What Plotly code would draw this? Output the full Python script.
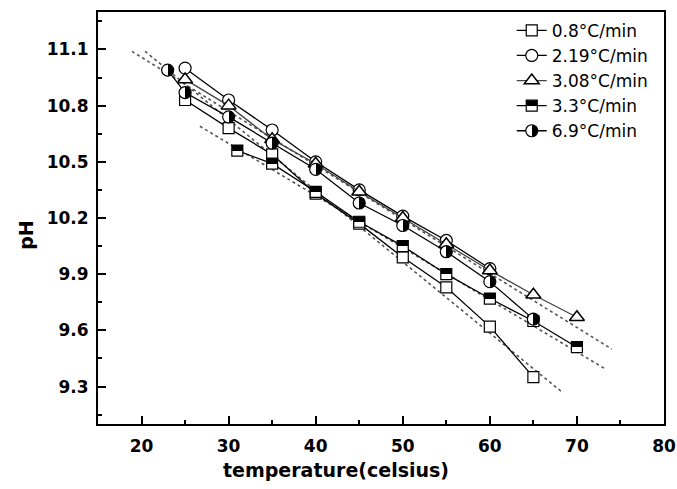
import plotly.graph_objects as go

# ---- data ----
x_08 = [25, 30, 35, 40, 45, 50, 55, 60, 65]
y_08 = [10.83, 10.68, 10.54, 10.33, 10.17, 9.99, 9.83, 9.62, 9.35]

x_219 = [25, 30, 35, 40, 45, 50, 55, 60]
y_219 = [11.00, 10.83, 10.67, 10.50, 10.35, 10.21, 10.08, 9.93]

x_308 = [25, 30, 35, 40, 45, 50, 55, 60, 65, 70]
y_308 = [10.94, 10.80, 10.62, 10.49, 10.34, 10.20, 10.06, 9.92, 9.79, 9.67]

x_33 = [31, 35, 40, 45, 50, 55, 60, 65, 70]
y_33 = [10.56, 10.49, 10.34, 10.18, 10.05, 9.90, 9.77, 9.65, 9.51]

x_69 = [23, 25, 30, 35, 40, 45, 50, 55, 60, 65]
y_69 = [10.99, 10.87, 10.74, 10.60, 10.46, 10.28, 10.16, 10.02, 9.86, 9.66]

# dotted linear-fit lines (end points)
fitA_x = [18.9, 74.0]
fitA_y = [11.09, 9.50]
fit08_x = [20.4, 68.3]
fit08_y = [11.09, 9.27]
fit33_x = [26.7, 73.4]
fit33_y = [10.69, 9.39]

labels = ["0.8°C/min", "2.19°C/min", "3.08°C/min", "3.3°C/min", "6.9°C/min"]

FONT = "DejaVu Sans"

fig = go.Figure()

for fx, fy in [(fitA_x, fitA_y), (fit08_x, fit08_y), (fit33_x, fit33_y)]:
    fig.add_trace(go.Scatter(x=fx, y=fy, mode="lines", showlegend=False,
                             hoverinfo="skip",
                             line=dict(color="#555555", width=1.6, dash="dot")))

line_style = dict(color="black", width=1.3)

fig.add_trace(go.Scatter(
    x=x_08, y=y_08, mode="lines+markers", name=labels[0], line=line_style,
    marker=dict(symbol="square", size=11, color="white",
                line=dict(color="black", width=1.2))))
fig.add_trace(go.Scatter(
    x=x_219, y=y_219, mode="lines+markers", name=labels[1], line=line_style,
    marker=dict(symbol="circle", size=12, color="white",
                line=dict(color="black", width=1.2))))
fig.add_trace(go.Scatter(
    x=x_308, y=y_308, mode="lines+markers", name=labels[2],
    line=dict(color="#444444", width=1.3),
    marker=dict(symbol="triangle-up", size=13, color="white",
                line=dict(color="black", width=1.5))))
fig.add_trace(go.Scatter(
    x=x_33, y=y_33, mode="lines+markers", name=labels[3], line=line_style,
    marker=dict(symbol="square", size=11, color="black",
                gradient=dict(type="vertical", color="white"),
                line=dict(color="black", width=1.2))))
fig.add_trace(go.Scatter(
    x=x_69, y=y_69, mode="lines+markers", name=labels[4], line=line_style,
    marker=dict(symbol="circle", size=12, color="white",
                gradient=dict(type="horizontal", color="black"),
                line=dict(color="black", width=1.2))))

tickfont = dict(family=FONT, size=17, color="black", weight="bold")

fig.update_layout(
    width=677, height=489,
    margin=dict(l=98, r=13, t=12, b=65, autoexpand=False),
    paper_bgcolor="white", plot_bgcolor="white",
    showlegend=True,
    legend=dict(x=0.731, y=0.998, xanchor="left", yanchor="top",
                bgcolor="rgba(0,0,0,0)", borderwidth=0,
                font=dict(family=FONT, size=17, color="black")),
    xaxis=dict(range=[15, 80], tick0=20, dtick=10, ticks="inside",
               ticklen=8, tickwidth=1.5, tickcolor="black",
               minor=dict(dtick=5, tick0=15, ticks="inside", ticklen=4,
                          tickwidth=1.5, tickcolor="black"),
               showline=True, linewidth=2, linecolor="black", mirror=True,
               showgrid=False, zeroline=False, tickfont=tickfont,
               ticklabelstandoff=6, ticklabeloverflow="allow"),
    yaxis=dict(range=[9.1, 11.3], tick0=9.3, dtick=0.3, ticks="inside",
               ticklen=8, tickwidth=1.5, tickcolor="black",
               minor=dict(dtick=0.15, tick0=9.15, ticks="inside", ticklen=4,
                          tickwidth=1.5, tickcolor="black"),
               showline=True, linewidth=2, linecolor="black", mirror=True,
               showgrid=False, zeroline=False, tickfont=tickfont,
               ticklabelstandoff=4, ticklabeloverflow="allow"),
    annotations=[
        dict(text="temperature(celsius)", xref="paper", yref="paper",
             x=0.42, y=-0.112, xanchor="center", yanchor="middle",
             showarrow=False,
             font=dict(family=FONT, size=19, color="black", weight="bold")),
        dict(text="pH", xref="paper", yref="paper", textangle=-90,
             x=-0.1275, y=0.459, xanchor="center", yanchor="middle",
             showarrow=False,
             font=dict(family=FONT, size=19, color="black", weight="bold")),
    ],
)

# make the two-colour marker gradients a hard half/half split
post = """
function hardSplit(){
  document.querySelectorAll('linearGradient').forEach(function(g){
    var st = g.querySelectorAll('stop');
    if (st.length !== 2) return;
    var a = st[0].cloneNode(), b = st[1].cloneNode();
    a.setAttribute('offset', '50%'); b.setAttribute('offset', '50%');
    g.insertBefore(a, st[1]); g.insertBefore(b, st[1]);
  });
}
hardSplit();
"""

fig.write_html("out.html", post_script=post)
